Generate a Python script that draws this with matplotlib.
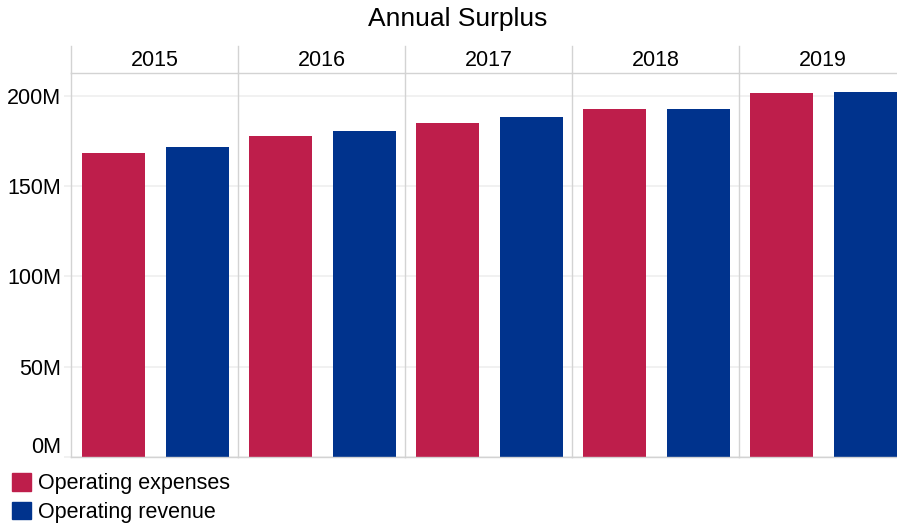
import matplotlib
matplotlib.use("Agg")
import matplotlib.pyplot as plt
from matplotlib.lines import Line2D
from matplotlib.patches import Patch
from matplotlib.ticker import FuncFormatter
import matplotlib.transforms as mtransforms

plt.rcParams['font.family'] = ['Liberation Sans', 'DejaVu Sans']

years = ["2015", "2016", "2017", "2018", "2019"]
series = ["Operating expenses", "Operating revenue"]
expenses = [168.3e6, 177.7e6, 184.9e6, 192.7e6, 201.6e6]
revenue = [171.7e6, 180.5e6, 188.3e6, 192.7e6, 202.1e6]
colors = ["#BE1E4B", "#00338D"]
yticks = [0, 50e6, 100e6, 150e6, 200e6]

W, H = 897, 524
fig = plt.figure(figsize=(W / 100, H / 100), dpi=100)

grid_c = "#efefef"
sep_c = "#d3d3d3"

# pixel layout of the facet panels
left_px, panel_w = 71, 167
top_px, bottom_px, strip_top = 73, 457, 46

axes = []
for i, yr in enumerate(years):
    x0 = (left_px + i * panel_w) / W
    ax = fig.add_axes([x0, 1 - bottom_px / H, panel_w / W, (bottom_px - top_px) / H])
    ax.bar([0, 1], [expenses[i], revenue[i]], width=0.75, color=colors)
    ax.set_xlim(-0.506, 1.482)
    ax.set_ylim(0, 212.6e6)
    ax.set_yticks(yticks)
    ax.grid(axis="y", color=grid_c, linewidth=1.2)
    ax.set_axisbelow(True)
    ax.set_xticks([])
    for s in ["top", "right"]:
        ax.spines[s].set_visible(False)
    ax.spines["left"].set_color(sep_c)
    ax.spines["bottom"].set_color(sep_c)
    ax.spines["left"].set_linewidth(1.0)
    ax.spines["bottom"].set_linewidth(1.0)
    if i == 0:
        ax.tick_params(axis="y", length=5, color=grid_c, width=1.2, pad=2, labelsize=15.5)
        ax.yaxis.set_major_formatter(FuncFormatter(lambda v, p: f"{v / 1e6:.0f}M"))
    else:
        ax.tick_params(axis="y", length=0, labelleft=False)
    # facet strip label
    ax.text(0.5, (bottom_px - (strip_top + top_px) / 2 - 1.5) / (bottom_px - top_px), yr,
            transform=ax.transAxes, ha="center", va="center", fontsize=15.5, clip_on=False)
    axes.append(ax)

# lift the 0M label off the baseline
fig.canvas.draw()
lab0 = axes[0].get_yticklabels()[0]
lab0.set_transform(lab0.get_transform() + mtransforms.ScaledTranslation(0, 12 / 100, fig.dpi_scale_trans))

# strip frame: separators up to the top and line under the labels
for i in range(6):
    x = (left_px + i * panel_w) / W
    fig.add_artist(Line2D([x, x], [1 - strip_top / H, 1 - top_px / H], color=sep_c, lw=1.0))
fig.add_artist(Line2D([left_px / W, 1], [1 - top_px / H] * 2, color=sep_c, lw=1.0))

fig.text(458 / W, 1 - 19 / H, "Annual Surplus", ha="center", va="center", fontsize=19)

handles = [Patch(color=c) for c in colors]
fig.legend(handles, series, loc="upper left", bbox_to_anchor=(12 / W, 1 - 473 / H),
           frameon=False, fontsize=15.5, handlelength=0.88, handleheight=0.88,
           handletextpad=0.35, labelspacing=0.35, borderpad=0, borderaxespad=0)

fig.savefig("out.png", dpi=100)
